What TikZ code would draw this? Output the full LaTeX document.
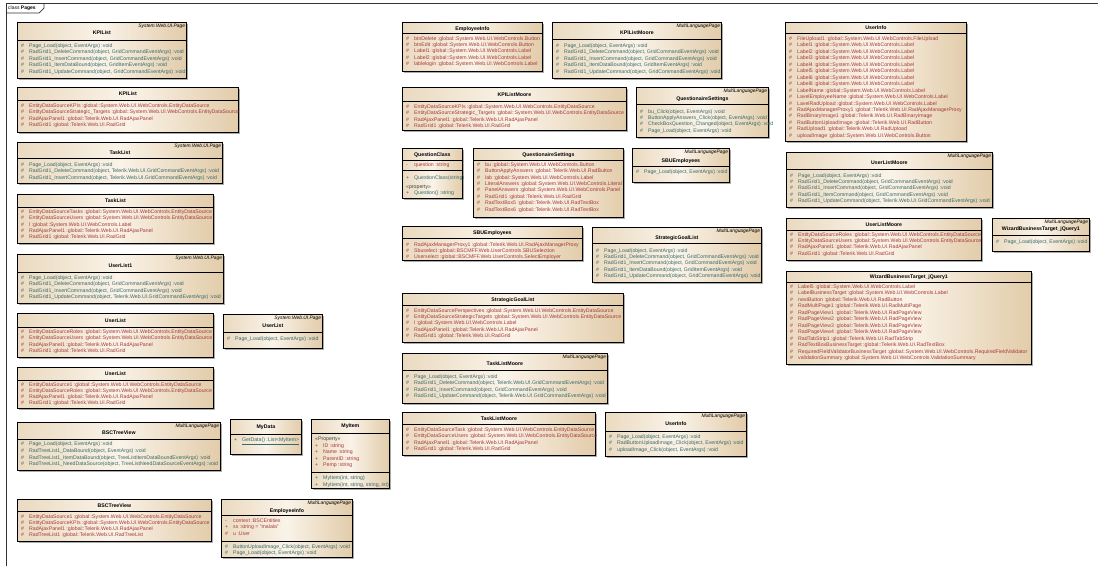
\documentclass[tikz,border=0pt]{standalone}
\usepackage{fontspec}
\setmainfont{Liberation Sans}
\usetikzlibrary{calc,shadows}

\definecolor{attrred}{HTML}{A63A3A}
\definecolor{methteal}{HTML}{386A6A}
\definecolor{boxleft}{HTML}{EADAC0}
\definecolor{boxmid}{HTML}{FAF3E8}
\definecolor{boxright}{HTML}{E2CCAA}

% box: name, x, y, width, height, divider offset
\newcommand*{\umlclass}[6]{%
	\node[classbox,minimum width=#4pt,minimum height=#5pt] (#1) at (#2,#3) {};
	\draw[divider] ($(#1.north west)+(0,#6)$) -- ($(#1.north east)+(0,#6)$);
}
\newcommand*{\stereo}[2]{\node[stereotype] (#1s) at ($(#1.north east)+(-1.5,4.5)$) {#2};}
\newcommand*{\cname}[3]{\node[classname] (#1n) at ($(#1.north)+(0,#2)$) {#3};}
% rows: box, style, marker, first offset, step, list
\newcommand{\rows}[6]{%
	\foreach \r [count=\i from 0] in {#6}
		\node[#2] (#1-\i) at ($(#1.north west)+(4,#4+\i*#5)$) {\makebox[8pt][l]{#3}\r};
}

\begin{document}
\begin{tikzpicture}
[
	x=1pt,y=-1pt,
	classbox/.style={draw=black,line width=0.8pt,anchor=north west,inner sep=0pt,
		left color=boxleft,right color=boxright,middle color=boxmid,
		drop shadow={shadow xshift=1.8pt,shadow yshift=-1.8pt,fill=black!55,opacity=0.6}},
	divider/.style={black,line width=0.8pt},
	frame/.style={black!80,line width=0.7pt},
	stereotype/.style={anchor=east,inner sep=0pt,font=\fontsize{4.9}{5}\selectfont\itshape,text height=3.4pt,text depth=1pt},
	classname/.style={inner sep=0pt,font=\fontsize{5.2}{6}\selectfont\bfseries},
	attr/.style={anchor=west,inner sep=0pt,text=attrred,font=\fontsize{5.2}{6}\selectfont,text height=3.7pt,text depth=1pt},
	meth/.style={attr,text=methteal},
	plain/.style={attr,text=black!75}
]
	\useasboundingbox (0,0) rectangle (1098,566);

	% frame
	\draw[frame] (6,566) -- (6,3) -- (1098,3);
	\draw[frame] (6,13) -- (39,13) -- (44,8) -- (44,3);
	\node[anchor=west,inner sep=0pt,font=\fontsize{5}{6}\selectfont] (frametitle) at (8,8) {class \textbf{Pages}};

	% left column
	\umlclass{kpim}{17}{22}{169}{56}{18}
	\stereo{kpim}{System.Web.UI.Page}
	\cname{kpim}{11}{KPIList}
	\rows{kpim}{meth}{\#}{24}{6.5}{{Page\_Load(object, EventArgs) :void},{RadGrid1\_DeleteCommand(object, GridCommandEventArgs) :void},{RadGrid1\_InsertCommand(object, GridCommandEventArgs) :void},{RadGrid1\_ItemDataBound(object, GridItemEventArgs) :void},{RadGrid1\_UpdateCommand(object, GridCommandEventArgs) :void}}

	\umlclass{kpia}{17}{87}{221}{45}{13}
	\cname{kpia}{7}{KPIList}
	\rows{kpia}{attr}{\#}{19}{6.4}{{EntityDataSourceKPIs :global::System.Web.UI.WebControls.EntityDataSource},{EntityDataSourceStrategic\_Targets :global::System.Web.UI.WebControls.EntityDataSource},{RadAjaxPanel1 :global::Telerik.Web.UI.RadAjaxPanel},{RadGrid1 :global::Telerik.Web.UI.RadGrid}}

	\umlclass{taskm}{17}{142}{205}{41}{16}
	\stereo{taskm}{System.Web.UI.Page}
	\cname{taskm}{11}{TaskList}
	\rows{taskm}{meth}{\#}{23}{6.4}{{Page\_Load(object, EventArgs) :void},{RadGrid1\_DeleteCommand(object, Telerik.Web.UI.GridCommandEventArgs) :void},{RadGrid1\_InsertCommand(object, Telerik.Web.UI.GridCommandEventArgs) :void}}

	\umlclass{taska}{17}{194}{196}{49}{13}
	\cname{taska}{7}{TaskList}
	\rows{taska}{attr}{\#}{18}{6.4}{{EntityDataSourceTasks :global::System.Web.UI.WebControls.EntityDataSource},{EntityDataSourceUsers :global::System.Web.UI.WebControls.EntityDataSource},{l :global::System.Web.UI.WebControls.Label},{RadAjaxPanel1 :global::Telerik.Web.UI.RadAjaxPanel},{RadGrid1 :global::Telerik.Web.UI.RadGrid}}

	\umlclass{userlistm}{17}{254}{206}{49}{18}
	\stereo{userlistm}{System.Web.UI.Page}
	\cname{userlistm}{12}{UserList1}
	\rows{userlistm}{meth}{\#}{24}{6.4}{{Page\_Load(object, EventArgs) :void},{RadGrid1\_DeleteCommand(object, GridCommandEventArgs) :void},{RadGrid1\_InsertCommand(object, GridCommandEventArgs) :void},{RadGrid1\_UpdateCommand(object, Telerik.Web.UI.GridCommandEventArgs) :void}}

	\umlclass{userlista}{17}{313}{196}{44}{14}
	\cname{userlista}{8}{UserList}
	\rows{userlista}{attr}{\#}{19}{6.4}{{EntityDataSourceRoles :global::System.Web.UI.WebControls.EntityDataSource},{EntityDataSourceUsers :global::System.Web.UI.WebControls.EntityDataSource},{RadAjaxPanel1 :global::Telerik.Web.UI.RadAjaxPanel},{RadGrid1 :global::Telerik.Web.UI.RadGrid}}

	\umlclass{userlistb}{17}{367}{196}{41}{13}
	\cname{userlistb}{7}{UserList}
	\rows{userlistb}{attr}{\#}{18}{6.2}{{EntityDataSource1 :global::System.Web.UI.WebControls.EntityDataSource},{EntityDataSourceRoles :global::System.Web.UI.WebControls.EntityDataSource},{RadAjaxPanel1 :global::Telerik.Web.UI.RadAjaxPanel},{RadGrid1 :global::Telerik.Web.UI.RadGrid}}

	\umlclass{bsctm}{17}{422}{203}{48}{17}
	\stereo{bsctm}{MultiLanguagePage}
	\cname{bsctm}{10.5}{BSCTreeView}
	\rows{bsctm}{meth}{\#}{22.5}{6.6}{{Page\_Load(object, EventArgs) :void},{RadTreeList1\_DataBound(object, EventArgs) :void},{RadTreeList1\_ItemDataBound(object, TreeListItemDataBoundEventArgs) :void},{RadTreeList1\_NeedDataSource(object, TreeListNeedDataSourceEventArgs) :void}}

	\umlclass{bscta}{17}{499}{194}{42}{12}
	\cname{bscta}{7}{BSCTreeView}
	\rows{bscta}{attr}{\#}{18}{6.2}{{EntityDataSource1 :global::System.Web.UI.WebControls.EntityDataSource},{EntityDataSourceKPIs :global::System.Web.UI.WebControls.EntityDataSource},{RadAjaxPanel1 :global::Telerik.Web.UI.RadAjaxPanel},{RadTreeList1 :global::Telerik.Web.UI.RadTreeList}}

	% small classes
	\umlclass{userlists}{223}{314}{99}{34}{18}
	\stereo{userlists}{System.Web.UI.Page}
	\cname{userlists}{12}{UserList}
	\rows{userlists}{meth}{\#}{25}{6.4}{{Page\_Load(object, EventArgs) :void}}

	\umlclass{mydata}{230}{419}{71}{35}{15}
	\cname{mydata}{8}{MyData}
	\node[meth] (mydata-0) at ($(mydata.north west)+(4,21)$) {\makebox[8pt][l]{+}\underline{GetData() :List<MyItem>}};

	\umlclass{myitem}{311}{419}{78}{69}{14}
	\draw[divider] ($(myitem.north west)+(0,53.3)$) -- ($(myitem.north east)+(0,53.3)$);
	\cname{myitem}{7.5}{MyItem}
	\node[plain] (myitemp) at ($(myitem.north west)+(4,20.3)$) {«Property»};
	\rows{myitem}{attr}{+}{26.8}{6.5}{{ID :string},{Name :string},{ParentID :string},{Pemp :string}}
	\node[meth] (myitemo0) at ($(myitem.north west)+(4,59.3)$) {\makebox[8pt][l]{+}MyItem(int, string)};
	\node[meth] (myitemo1) at ($(myitem.north west)+(4,65.8)$) {\makebox[8pt][l]{+}MyItem(int, string, string, int)};

	\umlclass{empm}{221}{499}{131}{58}{16}
	\draw[divider] ($(empm.north west)+(0,42.7)$) -- ($(empm.north east)+(0,42.7)$);
	\stereo{empm}{MultiLanguagePage}
	\cname{empm}{12}{EmployeeInfo}
	\node[attr] (empma0) at ($(empm.north west)+(4,21.7)$) {\makebox[8pt][l]{-}context :BSCEntities};
	\node[attr] (empma1) at ($(empm.north west)+(4,28.5)$) {\makebox[8pt][l]{+}ss :string = "malala"};
	\node[attr] (empma2) at ($(empm.north west)+(4,35)$) {\makebox[8pt][l]{\#}u :User};
	\rows{empm}{meth}{\#}{48}{6.2}{{ButtonUploadImage\_Click(object, EventArgs) :void},{Page\_Load(object, EventArgs) :void}}

	% middle columns
	\umlclass{empa}{402}{22}{140}{49}{11}
	\cname{empa}{7}{EmployeeInfo}
	\rows{empa}{attr}{\#}{17}{6.3}{{btnDelete :global::System.Web.UI.WebControls.Button},{btnEdit :global::System.Web.UI.WebControls.Button},{Label1 :global::System.Web.UI.WebControls.Label},{Label2 :global::System.Web.UI.WebControls.Label},{lablelogin :global::System.Web.UI.WebControls.Label}}

	\umlclass{kpimoorem}{552}{22}{169}{56}{17}
	\stereo{kpimoorem}{MultiLanguagePage}
	\cname{kpimoorem}{11}{KPIListMoore}
	\rows{kpimoorem}{meth}{\#}{24}{6.5}{{Page\_Load(object, EventArgs) :void},{RadGrid1\_DeleteCommand(object, GridCommandEventArgs) :void},{RadGrid1\_InsertCommand(object, GridCommandEventArgs) :void},{RadGrid1\_ItemDataBound(object, GridItemEventArgs) :void},{RadGrid1\_UpdateCommand(object, GridCommandEventArgs) :void}}

	\umlclass{kpimoorea}{402}{87}{224}{43}{14}
	\cname{kpimoorea}{8}{KPIListMoore}
	\rows{kpimoorea}{attr}{\#}{20}{6.4}{{EntityDataSourceKPIs :global::System.Web.UI.WebControls.EntityDataSource},{EntityDataSourceStrategic\_Targets :global::System.Web.UI.WebControls.EntityDataSource},{RadAjaxPanel1 :global::Telerik.Web.UI.RadAjaxPanel},{RadGrid1 :global::Telerik.Web.UI.RadGrid}}

	\umlclass{qsetm}{636}{87}{132}{50}{17}
	\stereo{qsetm}{MultiLanguagePage}
	\cname{qsetm}{12}{QuestionaireSettings}
	\rows{qsetm}{meth}{\#}{25}{6.3}{{bu\_Click(object, EventArgs) :void},{ButtonApplyAnswers\_Click(object, EventArgs) :void},{CheckBoxQuestion\_Changed(object, EventArgs) :void},{Page\_Load(object, EventArgs) :void}}

	\umlclass{qclass}{402}{148}{60}{50}{12}
	\draw[divider] ($(qclass.north west)+(0,22)$) -- ($(qclass.north east)+(0,22)$);
	\cname{qclass}{7}{QuestionClass}
	\node[attr] (qclassa0) at ($(qclass.north west)+(4,17)$) {\makebox[8pt][l]{-}question :string};
	\node[meth] (qclasso0) at ($(qclass.north west)+(4,30.3)$) {\makebox[8pt][l]{+}QuestionClass(string)};
	\node[plain] (qclassp) at ($(qclass.north west)+(4,39.3)$) {«property»};
	\node[meth] (qclasso1) at ($(qclass.north west)+(4,44.7)$) {\makebox[8pt][l]{+}Question() :string};

	\umlclass{qseta}{473}{148}{150}{69}{12}
	\cname{qseta}{7}{QuestionaireSettings}
	\rows{qseta}{attr}{\#}{17}{6.4}{{bu :global::System.Web.UI.WebControls.Button},{ButtonApplyAnswers :global::Telerik.Web.UI.RadButton},{lab :global::System.Web.UI.WebControls.Label},{LiteralAnswers :global::System.Web.UI.WebControls.Literal},{PanelAnswers :global::System.Web.UI.WebControls.Panel},{RadGrid1 :global::Telerik.Web.UI.RadGrid},{RadTextBox5 :global::Telerik.Web.UI.RadTextBox},{RadTextBox6 :global::Telerik.Web.UI.RadTextBox}}

	\umlclass{sbum}{632}{148}{97}{34}{18}
	\stereo{sbum}{MultiLanguagePage}
	\cname{sbum}{13}{SBUEmployees}
	\rows{sbum}{meth}{\#}{24}{6.4}{{Page\_Load(object, EventArgs) :void}}

	\umlclass{sbua}{402}{226}{180}{34}{12}
	\cname{sbua}{7}{SBUEmployees}
	\rows{sbua}{attr}{\#}{19}{6}{{RadAjaxManagerProxy1 :global::Telerik.Web.UI.RadAjaxManagerProxy},{Sbuselect :global::BSCMFF.Web.UserControls.SBUSelection},{Userselect :global::BSCMFF.Web.UserControls.SelectEmployer}}

	\umlclass{goalm}{592}{227}{169}{55}{16}
	\stereo{goalm}{MultiLanguagePage}
	\cname{goalm}{11}{StrategicGoalList}
	\rows{goalm}{meth}{\#}{24}{6.3}{{Page\_Load(object, EventArgs) :void},{RadGrid1\_DeleteCommand(object, GridCommandEventArgs) :void},{RadGrid1\_InsertCommand(object, GridCommandEventArgs) :void},{RadGrid1\_ItemDataBound(object, GridItemEventArgs) :void},{RadGrid1\_UpdateCommand(object, GridCommandEventArgs) :void}}

	\umlclass{goala}{402}{293}{221}{49}{12}
	\cname{goala}{7}{StrategicGoalList}
	\rows{goala}{attr}{\#}{18}{6.3}{{EntityDataSourcePerspectives :global::System.Web.UI.WebControls.EntityDataSource},{EntityDataSourceStrategicTargets :global::System.Web.UI.WebControls.EntityDataSource},{l :global::System.Web.UI.WebControls.Label},{RadAjaxPanel1 :global::Telerik.Web.UI.RadAjaxPanel},{RadGrid1 :global::Telerik.Web.UI.RadGrid}}

	\umlclass{taskmoorem}{402}{353}{205}{50}{17}
	\stereo{taskmoorem}{MultiLanguagePage}
	\cname{taskmoorem}{11}{TaskListMoore}
	\rows{taskmoorem}{meth}{\#}{24}{6.4}{{Page\_Load(object, EventArgs) :void},{RadGrid1\_DeleteCommand(object, Telerik.Web.UI.GridCommandEventArgs) :void},{RadGrid1\_InsertCommand(object, GridCommandEventArgs) :void},{RadGrid1\_UpdateCommand(object, Telerik.Web.UI.GridCommandEventArgs) :void}}

	\umlclass{taskmoorea}{402}{412}{193}{43}{12}
	\cname{taskmoorea}{7}{TaskListMoore}
	\rows{taskmoorea}{attr}{\#}{18}{6.4}{{EntityDataSourceTask :global::System.Web.UI.WebControls.EntityDataSource},{EntityDataSourceUsers :global::System.Web.UI.WebControls.EntityDataSource},{RadAjaxPanel1 :global::Telerik.Web.UI.RadAjaxPanel},{RadGrid1 :global::Telerik.Web.UI.RadGrid}}

	\umlclass{userinfom}{605}{412}{141}{44}{19}
	\stereo{userinfom}{MultiLanguagePage}
	\cname{userinfom}{12}{UserInfo}
	\rows{userinfom}{meth}{\#}{25}{6.5}{{Page\_Load(object, EventArgs) :void},{RadButtonUploadImage\_Click(object, EventArgs) :void},{uploadImage\_Click(object, EventArgs) :void}}

	% right column
	\umlclass{userinfoa}{785}{22}{181}{119}{11}
	\cname{userinfoa}{6}{UserInfo}
	\rows{userinfoa}{attr}{\#}{17}{6.47}{{FileUpload1 :global::System.Web.UI.WebControls.FileUpload},{Label1 :global::System.Web.UI.WebControls.Label},{Label2 :global::System.Web.UI.WebControls.Label},{Label3 :global::System.Web.UI.WebControls.Label},{Label4 :global::System.Web.UI.WebControls.Label},{Label5 :global::System.Web.UI.WebControls.Label},{Label6 :global::System.Web.UI.WebControls.Label},{Label8 :global::System.Web.UI.WebControls.Label},{LabelName :global::System.Web.UI.WebControls.Label},{LavelEmployeeName :global::System.Web.UI.WebControls.Label},{LavelRadUpload :global::System.Web.UI.WebControls.Label},{RadAjaxManagerProxy1 :global::Telerik.Web.UI.RadAjaxManagerProxy},{RadBinaryImage1 :global::Telerik.Web.UI.RadBinaryImage},{RadButtonUploadImage :global::Telerik.Web.UI.RadButton},{RadUpload1 :global::Telerik.Web.UI.RadUpload},{uploadImage :global::System.Web.UI.WebControls.Button}}

	\umlclass{userlistmoorem}{786}{152}{206}{55}{17}
	\stereo{userlistmoorem}{MultiLanguagePage}
	\cname{userlistmoorem}{11}{UserListMoore}
	\rows{userlistmoorem}{meth}{\#}{24}{6.3}{{Page\_Load(object, EventArgs) :void},{RadGrid1\_DeleteCommand(object, GridCommandEventArgs) :void},{RadGrid1\_InsertCommand(object, GridCommandEventArgs) :void},{RadGrid1\_ItemCommand(object, GridCommandEventArgs) :void},{RadGrid1\_UpdateCommand(object, Telerik.Web.UI.GridCommandEventArgs) :void}}

	\umlclass{userlistmoorea}{786}{218}{195}{42}{12}
	\cname{userlistmoorea}{7}{UserListMoore}
	\rows{userlistmoorea}{attr}{\#}{17}{6.3}{{EntityDataSourceRoles :global::System.Web.UI.WebControls.EntityDataSource},{EntityDataSourceUsers :global::System.Web.UI.WebControls.EntityDataSource},{RadAjaxPanel1 :global::Telerik.Web.UI.RadAjaxPanel},{RadGrid1 :global::Telerik.Web.UI.RadGrid}}

	\umlclass{wizardm}{992}{218}{97}{33}{17}
	\stereo{wizardm}{MultiLanguagePage}
	\cname{wizardm}{11}{WizardBusinessTarget\_jQuery1}
	\rows{wizardm}{meth}{\#}{24}{6.4}{{Page\_Load(object, EventArgs) :void}}

	\umlclass{wizarda}{786}{271}{245}{93}{11}
	\cname{wizarda}{6}{WizardBusinessTarget\_jQuery1}
	\rows{wizarda}{attr}{\#}{16}{6.5}{{Label5 :global::System.Web.UI.WebControls.Label},{LabelBusinessTarget :global::System.Web.UI.WebControls.Label},{nextButton :global::Telerik.Web.UI.RadButton},{RadMultiPage1 :global::Telerik.Web.UI.RadMultiPage},{RadPageView1 :global::Telerik.Web.UI.RadPageView},{RadPageView2 :global::Telerik.Web.UI.RadPageView},{RadPageView3 :global::Telerik.Web.UI.RadPageView},{RadPageView4 :global::Telerik.Web.UI.RadPageView},{RadTabStrip1 :global::Telerik.Web.UI.RadTabStrip},{RadTextBoxBusinessTarget :global::Telerik.Web.UI.RadTextBox},{RequiredFieldValidatorBusinessTarget :global::System.Web.UI.WebControls.RequiredFieldValidator},{validationSummary :global::System.Web.UI.WebControls.ValidationSummary}}

\end{tikzpicture}
\end{document}
